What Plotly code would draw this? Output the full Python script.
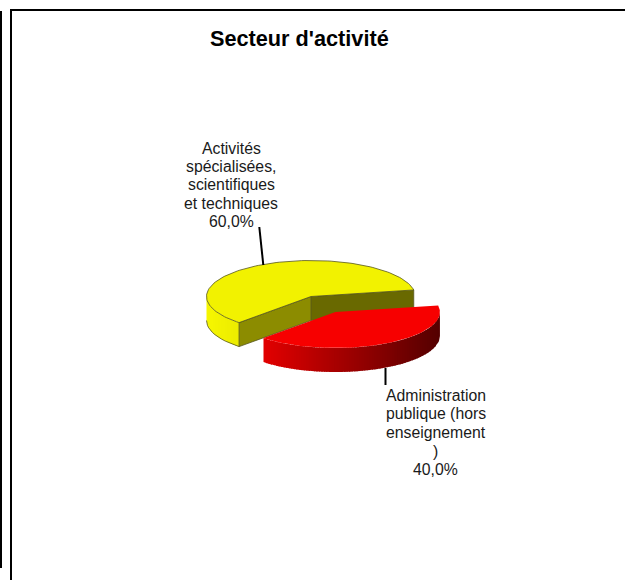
import math
import plotly.graph_objects as go

# ---- data ----
categories = ["Activités spécialisées, scientifiques et techniques", "Administration publique (hors enseignement )"]
label_lines = [["Activités", "spécialisées,", "scientifiques", "et techniques"],
               ["Administration", "publique (hors", "enseignement", ")"]]
values = [60.0, 40.0]
title_text = "Secteur d'activité"

# ---- geometry / style ----
CX, CY, RX, RY, DEPTH = 311.0, 296.5, 104.5, 36.0, 24.0
START_DEG = 10.5
EXPLODE = [0.0, 0.49]
TOP_COL = ["#f2f200", "#f70000"]
EDGE_COL = "#55551e"
FONT = "Liberation Sans"
LABEL_SIZE = 15.8
LINE_STEPS = [18.4, 18.7]

total = sum(values)
spans, a = [], START_DEG
for v in values:
    s = 360.0 * v / total
    spans.append((a, a + s))
    a += s

fig = go.Figure()


def poly(xs, ys, fill):
    fig.add_trace(go.Scatter(x=xs, y=ys, mode="lines", fill="toself", fillcolor=fill,
                             line=dict(width=0), hoverinfo="skip", showlegend=False))


def outline(xs, ys, col=EDGE_COL, w=0.8):
    fig.add_trace(go.Scatter(x=xs, y=ys, mode="lines", line=dict(color=col, width=w),
                             hoverinfo="skip", showlegend=False))


def pt(t, ox, oy):
    r = math.radians(t)
    return ox + RX * math.cos(r), oy - RY * math.sin(r)


def lerp(c0, c1, f):
    return "rgb(%d,%d,%d)" % tuple(round(p + (q - p) * f) for p, q in zip(c0, c1))


def front_y(x, ox, oy):
    d = max(-1.0, min(1.0, (x - ox) / RX))
    return oy + RY * math.sqrt(1 - d * d)


def draw_wall_outer(t0, t1, ox, oy, c0, c1, n):
    lo, hi = max(t0, 180), min(t1, 360)
    if hi <= lo:
        return
    x_lo, x_hi = pt(lo, ox, oy)[0], pt(hi, ox, oy)[0]
    for i in range(n):
        xa = x_lo + (x_hi - x_lo) * i / n
        xb = min(x_hi, x_lo + (x_hi - x_lo) * (i + 1) / n + 1.0)
        xs_top = [xa + (xb - xa) * k / 3 for k in range(4)]
        ys_top = [front_y(x, ox, oy) for x in xs_top]
        poly(xs_top + xs_top[::-1], ys_top + [y + DEPTH for y in ys_top[::-1]], lerp(c0, c1, i / (n - 1)))


# --- yellow slice ---
t0, t1 = spans[0]
ox = CX + EXPLODE[0] * RX * math.cos(math.radians((t0 + t1) / 2))
oy = CY - EXPLODE[0] * RY * math.sin(math.radians((t0 + t1) / 2))
ax0, ay0 = pt(t0, ox, oy)
ax1, ay1 = pt(t1, ox, oy)
poly([ox, ax0, ax0, ox], [oy, ay0, ay0 + DEPTH, oy + DEPTH], "#696900")
poly([ox, ax1, ax1, ox], [oy, ay1, ay1 + DEPTH, oy + DEPTH], "#8c8c00")
draw_wall_outer(t0, t1, ox, oy, (246, 246, 0), (236, 236, 0), 16)
outline([ox, ax0, ax0, ox, ox], [oy, ay0, ay0 + DEPTH, oy + DEPTH, oy])
outline([ox, ax1, ax1, ox], [oy, ay1, ay1 + DEPTH, oy + DEPTH])
arc = [t1 - (t1 - 180) * k / 12 for k in range(13)]
pts = [pt(s, ox, oy) for s in arc]
outline([p[0] for p in pts], [p[1] + DEPTH for p in pts])
ts = [t0 + (t1 - t0) * k / 120 for k in range(121)]
pts = [pt(s, ox, oy) for s in ts]
poly([ox] + [p[0] for p in pts] + [ox], [oy] + [p[1] for p in pts] + [oy], TOP_COL[0])
outline([ox] + [p[0] for p in pts] + [ox], [oy] + [p[1] for p in pts] + [oy])

# --- red slice ---
t0, t1 = spans[1]
mid = math.radians((t0 + t1) / 2)
ox = CX + EXPLODE[1] * RX * math.cos(mid)
oy = CY - EXPLODE[1] * RY * math.sin(mid)
draw_wall_outer(t0, t1, ox, oy, (225, 0, 0), (85, 0, 0), 70)
ts = [t0 + (t1 - t0) * k / 120 for k in range(121)]
pts = [pt(s, ox, oy) for s in ts]
poly([ox] + [p[0] for p in pts] + [ox], [oy] + [p[1] for p in pts] + [oy], TOP_COL[1])

# --- frame bars, leaders ---
shapes = [
    dict(type="rect", x0=0, x1=2, y0=11, y1=568),
    dict(type="rect", x0=10, x1=12, y0=9, y1=580),
    dict(type="rect", x0=10, x1=625, y0=9, y1=11),
]
for s in shapes:
    s.update(xref="x", yref="y", fillcolor="black", line_width=0, layer="above")
shapes += [
    dict(type="line", xref="x", yref="y", x0=259.3, y0=227, x1=263.3, y1=265, line=dict(color="black", width=2)),
    dict(type="line", xref="x", yref="y", x0=385.5, y0=368, x1=385.5, y1=385, line=dict(color="black", width=2)),
]


def pct(v):
    return f"{100 * v / total:.1f}".replace(".", ",") + "%"


label_pos = [(231, 184.8), (435.7, 432.5)]
annotations = []
for (x, yc), lines, v, step in zip(label_pos, label_lines, values, LINE_STEPS):
    rows = lines + [pct(v)]
    for i, row in enumerate(rows):
        annotations.append(dict(x=x, y=yc + (i - (len(rows) - 1) / 2) * step, xref="x", yref="y",
                                showarrow=False, xanchor="center", yanchor="middle", text=row,
                                font=dict(family=FONT, size=LABEL_SIZE, color="#1a1a1a")))
annotations.append(dict(x=299.5, y=38, xref="x", yref="y", showarrow=False, xanchor="center", yanchor="middle",
                        text=f"<b>{title_text}</b>", font=dict(family=FONT, size=21.7, color="black")))

fig.update_layout(
    width=625, height=580, margin=dict(l=0, r=0, t=0, b=0),
    paper_bgcolor="white", plot_bgcolor="white", showlegend=False,
    xaxis=dict(range=[0, 625], visible=False, fixedrange=True),
    yaxis=dict(range=[580, 0], visible=False, fixedrange=True),
    shapes=shapes, annotations=annotations,
)
fig.write_html("out.html", config=dict(displayModeBar=False),
               post_script="document.body.style.margin='0';document.body.style.overflow='hidden';")
